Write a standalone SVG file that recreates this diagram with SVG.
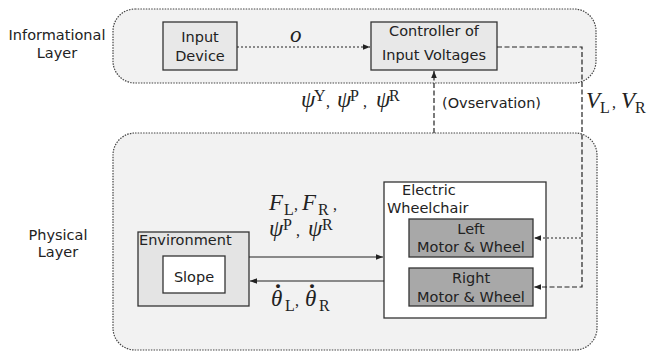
<svg xmlns="http://www.w3.org/2000/svg" width="655" height="353" viewBox="0 0 655 353">
<style>
.lbl{font-family:"DejaVu Sans","Noto Sans",sans-serif;font-size:14.5px;fill:#222}
.mid{text-anchor:middle}
.math{font-family:"Liberation Serif","DejaVu Serif",serif;font-size:23px;fill:#222}
.it{font-style:italic}
.s{font-size:16px;font-style:normal}
.d{font-size:24px;font-style:normal;font-weight:bold}
.layer{fill:#f2f2f2;stroke:#444;stroke-width:1.2;stroke-dasharray:1.5 1.2}
.box{stroke:#333;stroke-width:1.3}
.ln{fill:none;stroke:#222;stroke-width:1.2}
.dot{stroke-dasharray:2 2}
.dash{stroke-dasharray:5 2.5}
</style>
<defs>
<marker id="ah" viewBox="0 0 10 10" refX="10" refY="5" markerWidth="7" markerHeight="7" markerUnits="userSpaceOnUse" orient="auto">
<path d="M0,1 L10,5 L0,9 z" fill="#222"/>
</marker>
</defs>

<g id="informational-layer">
<rect class="layer" x="113" y="9" width="483" height="74" rx="22" ry="22"/>
<text class="lbl mid" x="57" y="40">Informational</text>
<text class="lbl mid" x="57" y="58">Layer</text>
</g>

<g id="physical-layer">
<rect class="layer" x="113" y="133" width="484" height="217" rx="22" ry="22"/>
<text class="lbl mid" x="58" y="240">Physical</text>
<text class="lbl mid" x="58" y="257">Layer</text>
</g>

<g id="input-device">
<rect class="box" x="163" y="22" width="74" height="48" fill="#e8e8e8"/>
<text class="lbl mid" x="200" y="42">Input</text>
<text class="lbl mid" x="200" y="61">Device</text>
</g>

<g id="controller">
<rect class="box" x="371" y="22" width="126" height="48" fill="#e8e8e8"/>
<text class="lbl mid" x="434" y="36">Controller of</text>
<text class="lbl mid" x="434" y="60">Input Voltages</text>
</g>

<g id="environment">
<rect class="box" x="138" y="232" width="111" height="74" fill="#e4e4e4"/>
<text class="lbl" x="139" y="245">Environment</text>
<g id="slope">
<rect class="box" x="163" y="256" width="62" height="37" fill="#ffffff"/>
<text class="lbl mid" x="194" y="282">Slope</text>
</g>
</g>

<g id="wheelchair">
<rect class="box" x="384" y="182" width="162" height="136" fill="#ffffff"/>
<text class="lbl" x="402" y="195">Electric</text>
<text class="lbl" x="387" y="213">Wheelchair</text>
<g id="left-motor">
<rect class="box" x="409" y="219" width="124" height="38" fill="#a8a8a8"/>
<text class="lbl mid" x="471" y="234">Left</text>
<text class="lbl mid" x="471" y="252">Motor &amp; Wheel</text>
</g>
<g id="right-motor">
<rect class="box" x="409" y="268" width="124" height="38" fill="#a8a8a8"/>
<text class="lbl mid" x="471" y="283">Right</text>
<text class="lbl mid" x="471" y="302">Motor &amp; Wheel</text>
</g>
</g>

<g id="connectors">
<path class="ln dot" d="M237,47 H370" marker-end="url(#ah)"/>
<path class="ln dash" d="M434,133 V71" marker-end="url(#ah)"/>
<path class="ln dash" d="M497,47 H582 V287 H534" marker-end="url(#ah)"/>
<path class="ln dot" d="M581,238 H534" marker-end="url(#ah)"/>
<path class="ln" d="M249,257 H383" marker-end="url(#ah)"/>
<path class="ln" d="M384,281 H250" marker-end="url(#ah)"/>
</g>

<g id="labels">
<text class="math it" x="290" y="42">o</text>
<text class="math it"><tspan x="301" y="107">ψ</tspan><tspan class="s" x="314" y="101">Y</tspan><tspan class="s" x="326" y="107">,</tspan><tspan x="337" y="107">ψ</tspan><tspan class="s" x="350" y="101">P</tspan><tspan class="s" x="363" y="107">,</tspan><tspan x="376" y="107">ψ</tspan><tspan class="s" x="389" y="101">R</tspan></text>
<text class="lbl" x="442" y="108">(Ovservation)</text>
<text class="math it"><tspan x="586" y="108">V</tspan><tspan class="s" x="600" y="113">L</tspan><tspan class="s" x="612" y="108">,</tspan><tspan x="621" y="108">V</tspan><tspan class="s" x="635" y="113">R</tspan></text>
<text class="math it"><tspan x="269" y="210">F</tspan><tspan class="s" x="284" y="215">L</tspan><tspan class="s" x="294" y="210">,</tspan><tspan x="302" y="210">F</tspan><tspan class="s" x="318" y="215">R</tspan><tspan class="s" x="333" y="210">,</tspan></text>
<text class="math it"><tspan x="269" y="236">ψ</tspan><tspan class="s" x="283" y="230">P</tspan><tspan class="s" x="296" y="236">,</tspan><tspan x="308" y="236">ψ</tspan><tspan class="s" x="322" y="230">R</tspan></text>
<text class="math it"><tspan x="271" y="306">θ</tspan><tspan class="d" x="275" y="288">.</tspan><tspan class="s" x="285" y="311">L</tspan><tspan class="s" x="295" y="306">,</tspan><tspan x="305" y="306">θ</tspan><tspan class="d" x="309" y="288">.</tspan><tspan class="s" x="319" y="311">R</tspan></text>
</g>
</svg>
